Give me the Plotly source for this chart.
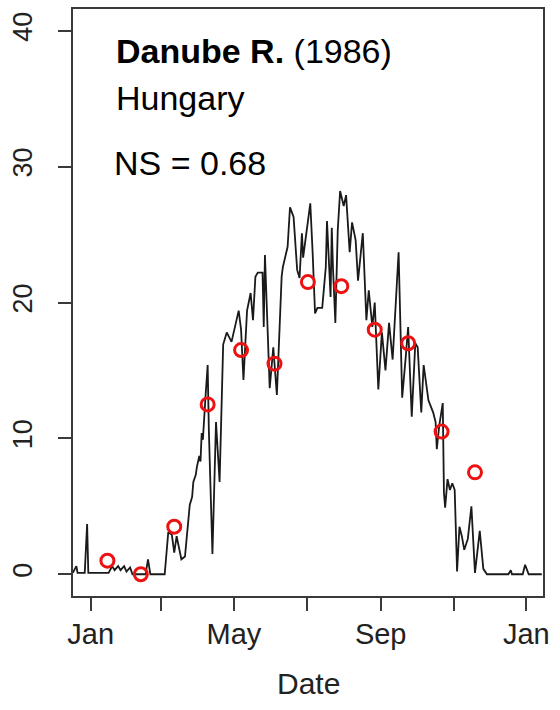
import pandas as pd
import plotly.graph_objects as go

# Simulated daily water temperature, Danube R. (Hungary), 1986
# sim_day: days since 1 Jan 1986; sim_temp: degrees C
sim_day = [-15, -12, -11, -5, -3, -2, 15, 18, 20, 23,
           25, 28, 30, 33, 35, 46, 48, 50, 62, 65,
           68, 70, 72, 76, 79, 82, 83, 85, 86, 88,
           89, 91, 92, 93, 94, 96, 98, 99, 102, 105,
           108, 111, 114, 118, 124, 126, 128, 131, 134, 136,
           138, 140, 144, 145, 146, 150, 153, 156, 160, 161,
           165, 167, 170, 173, 175, 177, 178, 181, 184, 186,
           188, 190, 194, 197, 198, 201, 202, 203, 205, 207,
           209, 212, 214, 217, 219, 222, 224, 228, 231, 233,
           236, 238, 241, 244, 247, 250, 253, 258, 261, 264,
           266, 269, 272, 274, 277, 279, 283, 287, 289, 290,
           292, 295, 296, 297, 299, 301, 303, 305, 307, 309,
           311, 313, 316, 319, 322, 326, 329, 332, 350, 352,
           353, 362, 364, 367, 378]
sim_temp = [0.1, 0.6, 0.1, 0.1, 3.7, 0.1, 0.1, 0.6, 0.3, 0.6,
            0.3, 0.6, 0.2, 0.5, 0.0, 0.0, 1.1, 0.0, 0.0, 3.1,
            2.9, 1.6, 2.8, 1.1, 1.3, 4.0, 5.1, 5.7, 6.8, 7.3,
            7.9, 8.7, 8.3, 10.4, 9.9, 12.8, 15.4, 10.6, 1.5, 11.2,
            6.8, 16.9, 17.8, 17.1, 19.4, 18.0, 14.3, 19.4, 20.7, 18.7,
            21.9, 22.2, 22.2, 18.2, 23.5, 13.7, 16.7, 13.2, 21.9, 22.6,
            24.1, 27.0, 26.3, 22.4, 21.8, 25.1, 23.3, 25.3, 27.3, 23.6,
            19.2, 19.6, 19.6, 22.6, 26.0, 20.4, 25.5, 22.6, 18.5, 25.3,
            28.2, 27.1, 27.9, 23.7, 25.9, 24.6, 21.6, 25.1, 18.7, 20.9,
            18.2, 20.0, 13.6, 17.8, 15.0, 18.5, 15.8, 23.7, 13.0, 16.0,
            18.2, 11.6, 17.0, 16.7, 11.9, 15.4, 12.8, 11.9, 11.2, 9.2,
            10.9, 12.6, 6.0, 4.9, 7.0, 6.2, 6.7, 6.2, 0.2, 3.5,
            2.8, 1.8, 2.6, 5.0, 0.1, 3.2, 0.4, 0.0, 0.0, 0.3,
            0.0, 0.0, 0.7, 0.0, 0.0]

# Observed water temperature (4-weekly samples)
obs_date = ["1986-01-15", "1986-02-12", "1986-03-12", "1986-04-09",
            "1986-05-07", "1986-06-04", "1986-07-02", "1986-07-30",
            "1986-08-27", "1986-09-24", "1986-10-22", "1986-11-19"]
obs_temp = [1.0, 0.0, 3.5, 12.5, 16.5, 15.5, 21.5, 21.2, 18.0, 17.0, 10.5, 7.5]

# Axis ticks
x_tick_dates = ["1986-01-01", "1986-03-01", "1986-05-01", "1986-07-01",
                "1986-09-01", "1986-11-01", "1987-01-01"]
x_tick_text = ["Jan", "", "May", "", "Sep", "", "Jan"]
y_tick_vals = [0, 10, 20, 30, 40]

sim_dates = pd.Timestamp("1986-01-01") + pd.to_timedelta(sim_day, unit="D")

FONT = "Liberation Sans, Arial, Helvetica, sans-serif"
AXIS_COLOR = "#3a3a3a"

fig = go.Figure()
fig.add_trace(go.Scatter(
    x=sim_dates, y=sim_temp, mode="lines",
    line=dict(color="#1a1a1a", width=1.8),
    showlegend=False, hoverinfo="skip",
))
fig.add_trace(go.Scatter(
    x=obs_date, y=obs_temp, mode="markers",
    marker=dict(symbol="circle-open", size=13, color="#ee1111",
                line=dict(width=3, color="#ee1111")),
    showlegend=False,
))

fig.update_xaxes(
    type="date",
    range=["1985-12-17 04:00", "1987-01-15"],
    tickvals=x_tick_dates, ticktext=x_tick_text,
    ticks="outside", ticklen=13, tickwidth=1.5, tickcolor=AXIS_COLOR,
    showline=True, linecolor=AXIS_COLOR, linewidth=1.8, mirror=True,
    showgrid=False, zeroline=False, ticklabelstandoff=-2,
    tickfont=dict(family=FONT, size=29, color="#222222"),
)
fig.update_yaxes(
    range=[-1.6, 41.6],
    tickvals=y_tick_vals,
    ticks="outside", ticklen=13, tickwidth=1.5, tickcolor=AXIS_COLOR,
    showline=True, linecolor=AXIS_COLOR, linewidth=1.8, mirror=True,
    showgrid=False, zeroline=False, tickangle=-90, ticklabelstandoff=15,
    tickfont=dict(family=FONT, size=27, color="#222222"),
)

annots = [
    dict(text="<b>Danube R.</b> (1986)", x=(114 - 73) / 470, y=0.9284),
    dict(text="Hungary", x=(114 - 73) / 470, y=0.8492),
    dict(text="NS = 0.68", x=(112 - 73) / 470, y=0.7371),
]
for a in annots:
    fig.add_annotation(
        text=a["text"], x=a["x"], y=a["y"], xref="paper", yref="paper",
        xanchor="left", yanchor="middle", showarrow=False,
        font=dict(family=FONT, size=34, color="#000000"),
    )
fig.add_annotation(
    text="Date", x=0.5, y=-0.1499, xref="paper", yref="paper",
    xanchor="center", yanchor="middle", showarrow=False,
    font=dict(family=FONT, size=30, color="#222222"),
)

fig.update_layout(
    width=560, height=710,
    margin=dict(l=73, r=17, t=9, b=114, autoexpand=False),
    paper_bgcolor="white", plot_bgcolor="white",
    font=dict(family=FONT),
)

fig.write_html("out.html")
